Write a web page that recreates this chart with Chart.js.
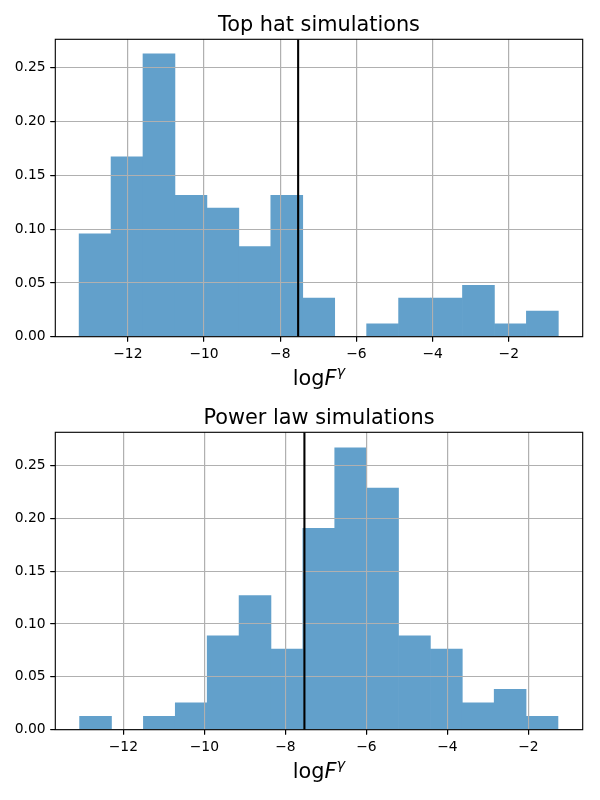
<!DOCTYPE html>
<html>
<head>
<meta charset="utf-8">
<script src="https://cdn.jsdelivr.net/npm/chart.js@4.4.0/dist/chart.umd.min.js"></script>
<style>
  html, body { margin: 0; padding: 0; background: #ffffff; }
  #wrap { position: relative; width: 600px; height: 800px; background: #ffffff; }
  canvas { position: absolute; left: 0; }
</style>
</head>
<body>
<div id="wrap">
  <canvas id="c1" width="600" height="400" style="top:0px"></canvas>
  <canvas id="c2" width="600" height="400" style="top:393px"></canvas>
</div>
<script>
// ---------------- data ----------------
const topTitle = "Top hat simulations";
const bottomTitle = "Power law simulations";

// histogram bin edges (16 edges, 15 bins)
const topEdges = [-13.280, -12.441, -11.603, -10.764, -9.925, -9.087, -8.248, -7.409,
                  -6.570, -5.732, -4.893, -4.054, -3.216, -2.377, -1.538, -0.700];
const topDensity = [0.0956, 0.1673, 0.2629, 0.1315, 0.1195, 0.0837, 0.1315, 0.0359,
                    0.0, 0.0120, 0.0359, 0.0359, 0.0478, 0.0120, 0.0239];

const bottomEdges = [-13.080, -12.293, -11.505, -10.718, -9.931, -9.143, -8.356, -7.569,
                     -6.782, -5.994, -5.207, -4.420, -3.632, -2.845, -2.058, -1.270];
const bottomDensity = [0.0127, 0.0, 0.0127, 0.0254, 0.0889, 0.1270, 0.0762, 0.1905,
                       0.2667, 0.2286, 0.0889, 0.0762, 0.0254, 0.0381, 0.0127];

// vertical reference line position
const topLineX = -7.53;
const bottomLineX = -7.53;

// axis ranges and ticks
const topXRange = [-13.905, -0.06];
const topYMax = 0.2765;
const bottomXRange = [-13.68, -0.66];
const bottomYMax = 0.2815;
const xTicks = [-12, -10, -8, -6, -4, -2];
const yTicks = [0.00, 0.05, 0.10, 0.15, 0.20, 0.25];

// ---------------- styling ----------------
const PT = 100 / 72;
const BAR_COLOR = 'rgb(98,160,203)';
const GRID_COLOR = '#b0b0b0';
const FONT = "'DejaVu Sans', sans-serif";

function centersOf(edges) {
  const c = [];
  for (let i = 0; i < edges.length - 1; i++) c.push((edges[i] + edges[i + 1]) / 2);
  return c;
}

const fmtX = v => (v < 0 ? '\u2212' + Math.abs(v) : String(v));

// redraw grid over the bars (matplotlib draws grid above patches)
const gridOnTop = {
  id: 'gridOnTop',
  afterDatasetDraw(chart, args) {
    if (args.meta.type !== 'bar') return;
    const ctx = chart.ctx;
    ctx.save();
    chart.scales.x.drawGrid(chart.chartArea);
    chart.scales.y.drawGrid(chart.chartArea);
    ctx.restore();
  }
};

// axes frame and math-style x label
const frameAndLabel = {
  id: 'frameAndLabel',
  afterDraw(chart) {
    const ctx = chart.ctx;
    const a = chart.chartArea;
    ctx.save();
    ctx.strokeStyle = '#000';
    ctx.lineWidth = 0.8 * PT;
    ctx.strokeRect(a.left, a.top, a.right - a.left, a.bottom - a.top);

    // x label: log F^gamma
    const size = 15 * PT;
    const supSize = size * 0.7;
    const parts = [
      { t: 'log', font: `normal ${size}px ${FONT}`, dy: 0 },
      { t: 'F', font: `italic ${size}px ${FONT}`, dy: 0 },
      { t: '\u03B3', font: `italic ${supSize}px ${FONT}`, dy: -0.42 * size }
    ];
    let total = 0;
    parts.forEach(p => { ctx.font = p.font; p.w = ctx.measureText(p.t).width; total += p.w; });
    let x = (a.left + a.right) / 2 - total / 2;
    const baseY = a.bottom + 48.3;
    ctx.fillStyle = '#000';
    ctx.textBaseline = 'alphabetic';
    ctx.textAlign = 'left';
    parts.forEach(p => { ctx.font = p.font; ctx.fillText(p.t, x, baseY + p.dy); x += p.w; });
    ctx.restore();
  }
};

function makeChart(id, title, edges, density, lineX, xRange, yMax) {
  const centers = centersOf(edges);
  const barData = centers.map((c, i) => ({ x: c, y: density[i] }));
  const lineData = [{ x: lineX, y: 0 }, { x: lineX, y: yMax }];
  return new Chart(document.getElementById(id), {
    type: 'bar',
    data: {
      datasets: [
        {
          type: 'line',
          data: lineData,
          borderColor: '#000000',
          borderWidth: 1.5 * PT,
          pointRadius: 0,
          fill: false
        },
        {
          type: 'bar',
          data: barData,
          backgroundColor: BAR_COLOR,
          borderWidth: 0,
          barPercentage: 1,
          categoryPercentage: 1
        }
      ]
    },
    options: {
      responsive: false,
      animation: false,
      devicePixelRatio: 1,
      layout: { padding: { left: 0, right: 17.3, top: 0, bottom: 23.3 } },
      plugins: {
        legend: { display: false },
        tooltip: { enabled: false },
        title: {
          display: true,
          text: title,
          fullSize: false,
          color: '#000',
          font: { family: FONT, size: 15 * PT, weight: 'normal', lineHeight: 1.2 },
          padding: { top: 13.0, bottom: 1.3 }
        }
      },
      scales: {
        x: {
          type: 'linear',
          min: xRange[0],
          max: xRange[1],
          offset: false,
          afterBuildTicks: s => { s.ticks = xTicks.map(v => ({ value: v })); },
          afterFit: s => { s.height = 40; },
          grid: {
            offset: false,
            color: GRID_COLOR,
            lineWidth: 0.8 * PT,
            drawTicks: true,
            tickLength: 3.5 * PT,
            tickColor: '#000',
            tickWidth: 0.8 * PT
          },
          border: { display: false },
          ticks: {
            color: '#000',
            font: { family: FONT, size: 10 * PT },
            padding: 3.5 * PT,
            maxRotation: 0,
            autoSkip: false,
            callback: v => fmtX(v)
          }
        },
        y: {
          type: 'linear',
          min: 0,
          max: yMax,
          afterBuildTicks: s => { s.ticks = yTicks.map(v => ({ value: v })); },
          afterFit: s => { s.width = 55.3; },
          grid: {
            color: GRID_COLOR,
            lineWidth: 0.8 * PT,
            drawTicks: true,
            tickLength: 3.5 * PT,
            tickColor: '#000',
            tickWidth: 0.8 * PT
          },
          border: { display: false },
          ticks: {
            color: '#000',
            font: { family: FONT, size: 10 * PT },
            padding: 3.5 * PT,
            autoSkip: false,
            callback: v => Number(v).toFixed(2)
          }
        }
      }
    },
    plugins: [gridOnTop, frameAndLabel]
  });
}

makeChart('c1', topTitle, topEdges, topDensity, topLineX, topXRange, topYMax);
makeChart('c2', bottomTitle, bottomEdges, bottomDensity, bottomLineX, bottomXRange, bottomYMax);
</script>
</body>
</html>
